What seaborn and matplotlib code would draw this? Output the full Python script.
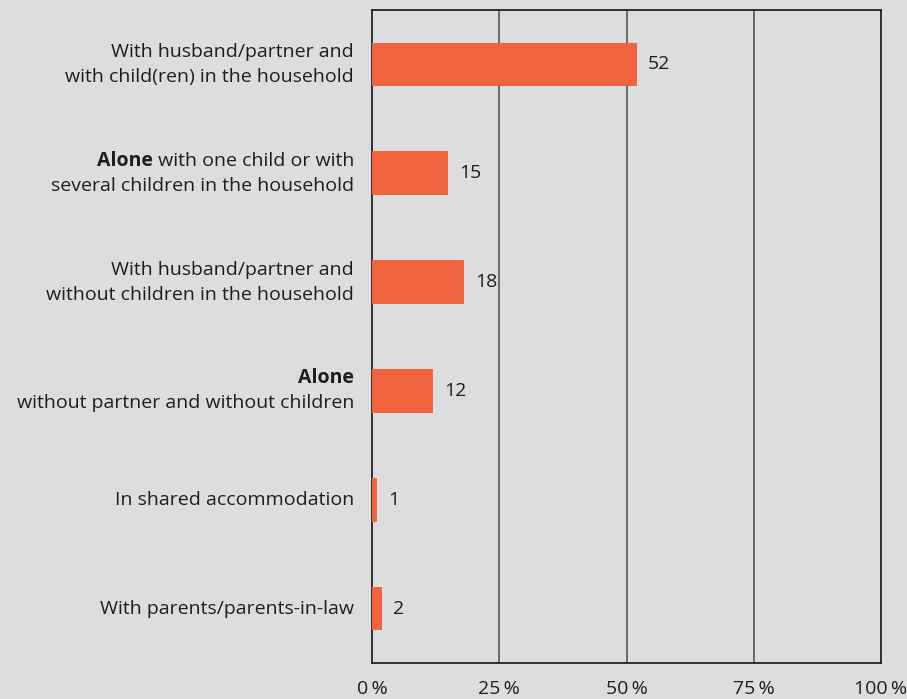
import matplotlib
matplotlib.use("Agg")
import matplotlib.pyplot as plt
import seaborn as sns
import pandas as pd

# Living situation shares (percent)
categories = [
    "With husband/partner and with child(ren) in the household",
    "Alone with one child or with several children in the household",
    "With husband/partner and without children in the household",
    "Alone without partner and without children",
    "In shared accommodation",
    "With parents/parents-in-law",
]
values = [52, 15, 18, 12, 1, 2]

# Label lines, each a list of (text, weight) segments
label_lines = [
    [[("With husband/partner and", "normal")],
     [("with child(ren) in the household", "normal")]],
    [[("Alone", "bold"), (" with one child or with", "normal")],
     [("several children in the household", "normal")]],
    [[("With husband/partner and", "normal")],
     [("without children in the household", "normal")]],
    [[("Alone", "bold")],
     [("without partner and without children", "normal")]],
    [[("In shared accommodation", "normal")]],
    [[("With parents/parents-in-law", "normal")]],
]
xticks = [0, 25, 50, 75, 100]
xtick_labels = ["0\u2009%", "25\u2009%", "50\u2009%", "75\u2009%", "100\u2009%"]

BG = "#dcdddf"
BAR = "#f26440"
TXT = "#1e1e1e"
FONTS = ["Open Sans", "DejaVu Sans"]
FS = 14

sns.set_theme(style="white")
plt.rcParams["font.family"] = FONTS

df = pd.DataFrame({"category": categories, "value": values})

fig = plt.figure(figsize=(9.07, 6.99), dpi=100, facecolor=BG)
ax = fig.add_axes([372 / 907, 36 / 699, 509 / 907, 653 / 699])
ax.set_facecolor(BG)

sns.barplot(data=df, x="value", y="category", order=categories, color=BAR,
            width=0.40, saturation=1, linewidth=0, ax=ax, zorder=3)

ax.set_xlim(0, 100)
ax.set_ylim(5.5, -0.5)
ax.set_xlabel("")
ax.set_ylabel("")

# vertical grid lines
for xv in xticks[1:-1]:
    ax.axvline(xv, color="#4a4a4a", lw=1.1, zorder=1)

for s in ax.spines.values():
    s.set_color("#222222")
    s.set_linewidth(1.3)

ax.set_xticks(xticks)
ax.set_xticklabels(xtick_labels, fontsize=FS, color=TXT)
ax.tick_params(axis="x", direction="out", length=8, width=1.2, color="#222222", pad=4)
ax.set_yticks([])

# value labels
for i, v in enumerate(values):
    ax.annotate(str(v), xy=(v, i), xytext=(8, 0), textcoords="offset points",
                ha="left", va="center", fontsize=FS, color=TXT)

# category labels (right-aligned left of the axis, with mixed bold)
ytrans = ax.get_yaxis_transform()
line_gap = 18  # points between line centres
for i, lines in enumerate(label_lines):
    n = len(lines)
    for j, segs in enumerate(lines):
        dy = ((n - 1) / 2 - j) * line_gap
        prev = None
        for text, weight in reversed(segs):
            if prev is None:
                prev = ax.annotate(text, xy=(0, i), xycoords=ytrans,
                                   xytext=(-13, dy), textcoords="offset points",
                                   ha="right", va="center", fontsize=FS,
                                   fontweight=weight, color=TXT)
            else:
                prev = ax.annotate(text, xy=(0, 0.5), xycoords=prev,
                                   ha="right", va="center", fontsize=FS,
                                   fontweight=weight, color=TXT)

fig.savefig("out.png", dpi=100, facecolor=BG)
